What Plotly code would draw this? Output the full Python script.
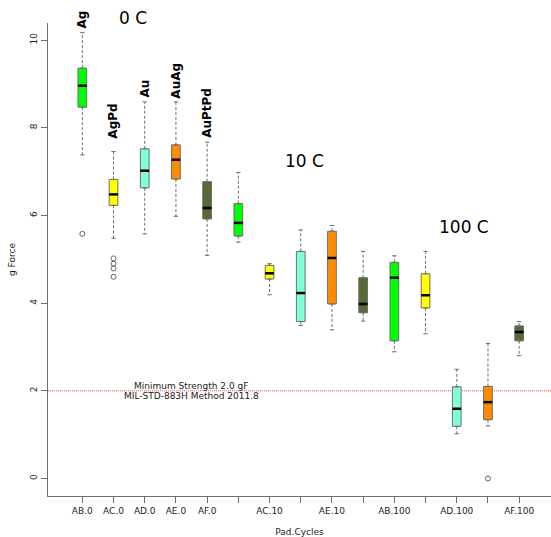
import plotly.graph_objects as go

# ---------------- data ----------------
categories = ["AB.0", "AC.0", "AD.0", "AE.0", "AF.0",
              "AB.10", "AC.10", "AD.10", "AE.10", "AF.10",
              "AB.100", "AC.100", "AD.100", "AE.100", "AF.100"]
tick_labels = ["AB.0", "AC.0", "AD.0", "AE.0", "AF.0",
               "", "AC.10", "", "AE.10", "",
               "AB.100", "", "AD.100", "", "AF.100"]
upper_whisker = [10.17, 7.46, 8.59, 8.59, 7.67, 6.98, 4.90, 5.67, 5.77, 5.18, 5.08, 5.18, 2.49, 3.08, 3.58]
q3_values     = [9.36, 6.82, 7.52, 7.61, 6.77, 6.27, 4.86, 5.18, 5.64, 4.58, 4.93, 4.67, 2.09, 2.10, 3.48]
median_values = [8.96, 6.48, 7.02, 7.27, 6.17, 5.83, 4.68, 4.23, 5.03, 3.98, 4.58, 4.18, 1.59, 1.74, 3.34]
q1_values     = [8.47, 6.23, 6.63, 6.83, 5.92, 5.53, 4.55, 3.58, 3.98, 3.78, 3.14, 3.89, 1.19, 1.34, 3.14]
lower_whisker = [7.38, 5.48, 5.58, 5.98, 5.09, 5.39, 4.19, 3.49, 3.39, 3.59, 2.89, 3.30, 1.02, 1.20, 2.80]
outliers = {"AB.0": [5.58], "AC.0": [5.02, 4.90, 4.79, 4.60], "AE.100": [0.0]}
pads = ["AB", "AC", "AD", "AE", "AF"]
metals = ["Ag", "AgPd", "Au", "AuAg", "AuPtPd"]
temperatures = ["0 C", "10 C", "100 C"]
min_strength = 2.0
min_text = ["Minimum Strength 2.0 gF", "MIL-STD-883H Method 2011.8"]

# ---------------- style ----------------
pad_colors = {"AB": "#00FF00", "AC": "#FFFF00", "AD": "#7FFFD4", "AE": "#FF8C00", "AF": "#556B2F"}
border = "#6e6e6e"
box_w = 0.28
cap_w = 0.07
font = "DejaVu Sans"
txt = "#222222"

xpos = list(range(1, len(categories) + 1))
fig = go.Figure()

# boxes, one trace per pad colour
for pad in pads:
    idx = [i for i, c in enumerate(categories) if c.split(".")[0] == pad]
    fig.add_trace(go.Box(
        x=[xpos[i] for i in idx],
        q1=[q1_values[i] for i in idx],
        median=[median_values[i] for i in idx],
        q3=[q3_values[i] for i in idx],
        lowerfence=[q1_values[i] for i in idx],
        upperfence=[q3_values[i] for i in idx],
        width=box_w,
        fillcolor=pad_colors[pad],
        line=dict(color=border, width=1),
        boxpoints=False,
        showlegend=False,
        hoverinfo="skip",
    ))

# whiskers (dashed), caps and medians
wx, wy, cx, cy, mx, my = [], [], [], [], [], []
for i, p in enumerate(xpos):
    wx += [p, p, None, p, p, None]
    wy += [q3_values[i], upper_whisker[i], None, q1_values[i], lower_whisker[i], None]
    cx += [p - cap_w, p + cap_w, None, p - cap_w, p + cap_w, None]
    cy += [upper_whisker[i], upper_whisker[i], None, lower_whisker[i], lower_whisker[i], None]
    mx += [p - box_w / 2, p + box_w / 2, None]
    my += [median_values[i], median_values[i], None]
fig.add_trace(go.Scatter(x=wx, y=wy, mode="lines", line=dict(color=border, width=1, dash="3px,2px"),
                         showlegend=False, hoverinfo="skip"))
fig.add_trace(go.Scatter(x=cx, y=cy, mode="lines", line=dict(color=border, width=1),
                         showlegend=False, hoverinfo="skip"))
fig.add_trace(go.Scatter(x=mx, y=my, mode="lines", line=dict(color="black", width=2.5),
                         showlegend=False, hoverinfo="skip"))

# outliers
ox, oy = [], []
for cat, vals in outliers.items():
    p = xpos[categories.index(cat)]
    ox += [p] * len(vals)
    oy += vals
fig.add_trace(go.Scatter(x=ox, y=oy, mode="markers",
                         marker=dict(symbol="circle-open", size=5, color="#666666", line=dict(width=1)),
                         showlegend=False, hoverinfo="skip"))

# minimum strength line (behind the boxes)
fig.add_shape(type="line", xref="paper", x0=0, x1=1, yref="y", y0=min_strength, y1=min_strength,
              layer="below", line=dict(color="rgba(255,0,0,0.7)", width=1, dash="1px,1px"))

annotations = []
metal_label_y = [10.25, 7.73, 8.66, 8.64, 7.75]
for i, m in enumerate(metals):
    annotations.append(dict(x=xpos[i], y=metal_label_y[i], text="<b>" + m + "</b>", textangle=-90,
                            xanchor="center", yanchor="bottom", showarrow=False, borderpad=0,
                            font=dict(family=font, size=12, color="black")))
temp_pos = [(2.63, 10.5), (8.13, 7.24), (13.23, 5.73)]
for t, (tx, ty) in zip(temperatures, temp_pos):
    if ty > 10.39:
        annotations.append(dict(x=tx, xref="x", y=1, yref="paper", yshift=(ty - 10.39) * 43.8 + 0.5,
                                text=t, xanchor="center", yanchor="middle", showarrow=False,
                                font=dict(family=font, size=17, color="black")))
    else:
        annotations.append(dict(x=tx, y=ty, text=t, xanchor="center", yanchor="middle", showarrow=False,
                                font=dict(family=font, size=17, color="black")))
for line_text, ty in zip(min_text, [2.11, 1.88]):
    annotations.append(dict(x=4.49, y=ty, text=line_text, xanchor="center", yanchor="middle",
                            showarrow=False, font=dict(family=font, size=9, color=txt)))

fig.update_layout(
    width=551, height=537,
    margin=dict(l=48, r=0, t=23, b=41, pad=0),
    paper_bgcolor="white", plot_bgcolor="white",
    font=dict(family=font, size=9, color=txt),
    annotations=annotations,
    xaxis=dict(range=[-0.1, 16.02], tickmode="array", tickvals=xpos, ticktext=tick_labels,
               showgrid=False, zeroline=False, showline=True, linecolor=border, linewidth=1,
               ticks="outside", ticklen=6, tickcolor=border, tickfont=dict(size=9, color=txt),
               title=dict(text="Pad.Cycles", font=dict(size=9, color=txt), standoff=16)),
    yaxis=dict(range=[-0.40, 10.39], tickvals=[0, 2, 4, 6, 8, 10], tickangle=-90,
               showgrid=False, zeroline=False, showline=True, linecolor=border, linewidth=1,
               ticks="outside", ticklen=6, tickcolor=border, tickfont=dict(size=9, color=txt),
               title=dict(text="g Force", font=dict(size=9, color=txt), standoff=12)),
)

fig.write_html("out.html")
